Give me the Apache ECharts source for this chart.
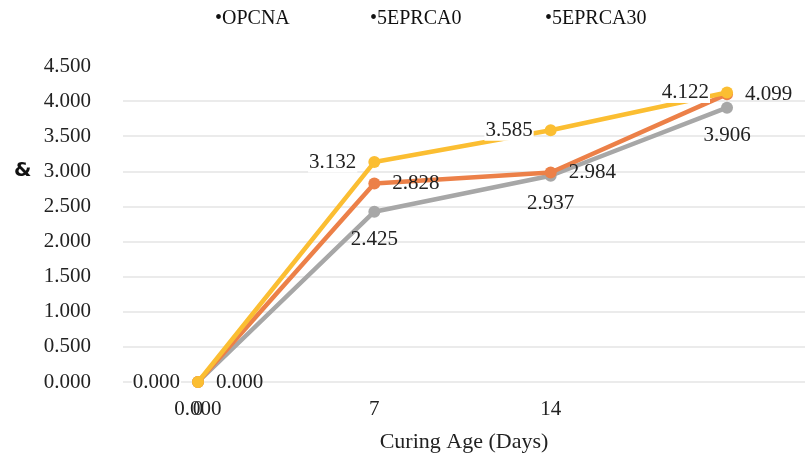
<!DOCTYPE html>
<html>
<head>
<meta charset="utf-8">
<script src="https://cdn.jsdelivr.net/npm/echarts@6/dist/echarts.min.js"></script>
<style>html,body{margin:0;padding:0;background:#fff}#c{width:805px;height:460px}</style>
</head>
<body>
<div id="c"></div>
<script>
const categories = ['0', '7', '14', ''];
const seriesNames = ['OPCNA', '5EPRCA0', '5EPRCA30'];
const opcna = [0.000, 2.425, 2.937, 3.906];
const eprca0 = [0.000, 2.828, 2.984, 4.099];
const eprca30 = [0.000, 3.132, 3.585, 4.122];
const yTicks = [0, 0.5, 1, 1.5, 2, 2.5, 3, 3.5, 4, 4.5];

const serif = 'Liberation Serif';
const colors = ['#A7A7A7', '#EC8048', '#FBBE32'];
const labelPos = ['bottom', 'right', 'left'];
const labelBg = [null, null, '#fff'];
const allData = [opcna, eprca0, eprca30];

const chart = echarts.init(document.getElementById('c'), null, {renderer: 'canvas'});

function legendAt(name, left) {
  return {
    data: [name], left: left, top: 3, icon: 'none', itemWidth: 0, itemHeight: 22,
    formatter: '\u2022{name}', selectedMode: false,
    textStyle: {fontFamily: serif, fontSize: 20, color: '#111'}
  };
}

chart.setOption({
  animation: false,
  backgroundColor: '#fff',
  legend: [legendAt(seriesNames[0], 205), legendAt(seriesNames[1], 360), legendAt(seriesNames[2], 535)],
  grid: {left: 123, right: 0, top: 66, bottom: 78},
  graphic: [{
    type: 'text', left: 14, top: 161,
    style: {text: '&', font: 'bold 20px "DejaVu Sans"', fill: '#111'}
  }],
  xAxis: {
    type: 'value', min: -0.4253, max: 3.4423,
    axisLine: {show: false}, axisTick: {show: false}, splitLine: {show: false},
    axisLabel: {
      customValues: [0, 1, 2, 3], margin: 17,
      formatter: v => categories[Math.round(v)],
      fontFamily: serif, fontSize: 21, color: '#222'
    },
    name: 'Curing Age (Days)', nameLocation: 'middle', nameGap: 49,
    nameTextStyle: {fontFamily: serif, fontSize: 22, color: '#222'}
  },
  yAxis: {
    type: 'value', min: 0, max: 4.5, interval: 0.5,
    axisLine: {show: false}, axisTick: {show: false},
    splitLine: {lineStyle: {color: yTicks.map((t, i) => i === yTicks.length - 1 ? 'rgba(0,0,0,0)' : '#E4E4E4'), width: 1.5}},
    axisLabel: {
      margin: 32, formatter: v => v.toFixed(3),
      fontFamily: serif, fontSize: 21, color: '#222'
    }
  },
  series: seriesNames.map((n, k) => ({
    name: n, type: 'line',
    data: allData[k].map((v, i) => [i, v]),
    symbol: 'circle', symbolSize: 12,
    lineStyle: {color: colors[k], width: 4.5},
    itemStyle: {color: colors[k]},
    z: 2 + k,
    label: {
      show: true, position: labelPos[k], distance: 11,
      formatter: p => p.value[1].toFixed(3),
      fontFamily: serif, fontSize: 21, color: '#222',
      backgroundColor: labelBg[k], padding: [0, 1]
    }
  }))
});
</script>
</body>
</html>
